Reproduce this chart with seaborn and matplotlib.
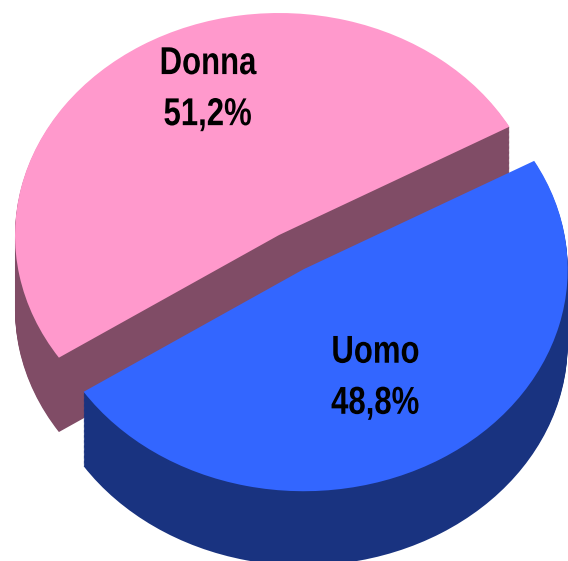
import matplotlib
matplotlib.use("Agg")
import matplotlib.pyplot as plt
from matplotlib import patheffects
from matplotlib.transforms import Affine2D
import numpy as np
import seaborn as sns

labels = ["Donna", "Uomo"]
shares = [51.2, 48.8]
pct_labels = ["51,2%", "48,8%"]
top_colors = ["#FF99CC", "#3366FF"]
side_colors = ["#804C66", "#193380"]

sns.set_style("white")
plt.rcParams["font.family"] = ["Liberation Sans"]

fig = plt.figure(figsize=(5.68, 5.61), dpi=100)
ax = fig.add_axes([0, 0, 1, 1])


class Narrow(patheffects.AbstractPathEffect):
    # no narrow font installed, so squeeze the glyphs around their middle
    def draw_path(self, renderer, gc, tpath, affine, rgbFace=None):
        box = tpath.get_extents()
        mid = (box.x0 + box.x1) / 2
        squeeze = Affine2D().translate(-mid, 0).scale(0.8, 1).translate(mid, 0)
        renderer.draw_path(gc, tpath, squeeze + affine, rgbFace)


def draw_slice(i, drop, color):
    # one layer of the pie, the other slice stays invisible
    wedges, _ = ax.pie(shares, startangle=29.2, explode=[0, 0.18], colors=top_colors,
                       center=(0, -drop), wedgeprops={"linewidth": 0})
    wedges[i].set_facecolor(color)
    wedges[1 - i].set_visible(False)


depth = 0.335
for i in range(2):
    for drop in np.linspace(depth, 0.005, 60):
        draw_slice(i, drop, side_colors[i])
    draw_slice(i, 0, top_colors[i])

ax.set_aspect("auto")
ax.set_xlim(-1.0568, 1.0947)
ax.set_ylim(-1.468, 1.0586)
ax.axis("off")

label_spots = [(-0.27, 0.77), (-0.27, 0.54), (0.365, -0.53), (0.365, -0.76)]
label_texts = [labels[0], pct_labels[0], labels[1], pct_labels[1]]
for (x, y), s in zip(label_spots, label_texts):
    ax.text(x, y, s, ha="center", va="center", fontsize=28, fontweight="bold",
            color="black", path_effects=[Narrow()])

fig.savefig("out.png", dpi=100)
